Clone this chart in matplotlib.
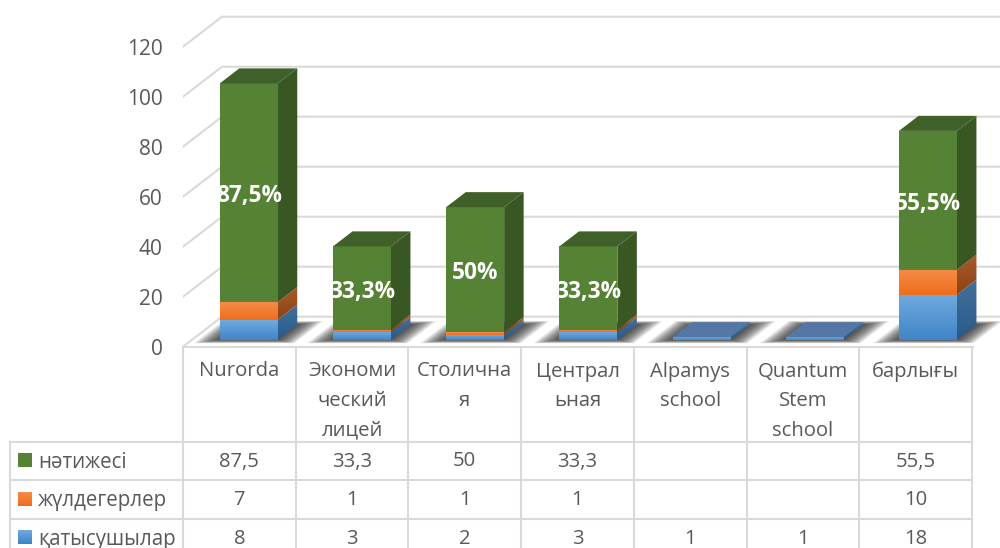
import matplotlib
matplotlib.use("Agg")
import matplotlib.pyplot as plt
from matplotlib.colors import LinearSegmentedColormap
from matplotlib.patches import Polygon
import numpy as np

# Data
categories = ["Nurorda", "Экономи\nческий\nлицей", "Столична\nя", "Централ\nьная",
              "Alpamys\nschool", "Quantum\nStem\nschool", "барлығы"]
qatysushylar = [8, 3, 2, 3, 1, 1, 18]
zhuldegerler = [7, 1, 1, 1, 0, 0, 10]
natizhesi = [87.5, 33.3, 50, 33.3, 0, 0, 55.5]
natizhesi_labels = ["87,5", "33,3", "50", "33,3", "", "", "55,5"]
series_names = ["нәтижесі", "жүлдегерлер", "қатысушылар"]
yticks = [0, 20, 40, 60, 80, 100, 120]

plt.rcParams["font.family"] = ["Open Sans", "DejaVu Sans"]
TEXT = "#595959"
GRID = "#d9d9d9"

W, H = 1000, 548
fig = plt.figure(figsize=(W / 100, H / 100), dpi=100)

# main axes: x = category number, y = value on the front edge of the floor
ax = fig.add_axes([183 / W, (H - 346.7) / H, 817 / W, 346.7 / H])
PX_X = 113.2
PX_Y = 2.5
xlim = (-0.5, -0.5 + 817 / PX_X)
ylim = (0, 346.7 / PX_Y)


def proj(x, v, d):
    # oblique 3d: d=0 is the front of the floor, d=1 the back wall
    return x + d * 39 / PX_X, v + d * 30 / PX_Y


def grad_poly(pts, top, bottom, z):
    pts = np.array(pts)
    cmap = LinearSegmentedColormap.from_list("g", [bottom, top])
    im = ax.imshow(np.linspace(1, 0, 64).reshape(-1, 1), cmap=cmap, aspect="auto", vmin=0, vmax=1,
                   extent=(pts[:, 0].min(), pts[:, 0].max(), pts[:, 1].min(), pts[:, 1].max()), zorder=z)
    p = Polygon(pts, closed=True, transform=ax.transData, fc="none", ec="none")
    ax.add_patch(p)
    im.set_clip_path(p)


# walls and floor
for t in yticks:
    xs, ys = zip(proj(-0.5, t, 0), proj(-0.5, t, 1), proj(7.5, t, 1))
    ax.plot(xs, ys, color=GRID, lw=1.5, zorder=1, solid_joinstyle="miter")
floor_end = (972.5 - 239.6) / PX_X
ax.plot([-0.5, floor_end], [0, 0], color=GRID, lw=1.5, zorder=1, clip_on=False)

# bars
D0, D1 = 0.235, 0.735
HALF = 0.256
face_colors = [("#6fa9de", "#3f85c8"), ("#f68b47", "#ee6e1b"), ("#558235", "#558235")]
side_colors = [("#44709a", "#285a8c"), ("#a85a2c", "#8a4412"), ("#385723", "#385723")]
top_colors = ["#5577a5", "#a85a2c", "#3f6028"]
series = [qatysushylar, zhuldegerler, natizhesi]

for i in range(len(categories)):
    l, r = i - HALF, i + HALF
    # blurred shadow on the floor
    for e in np.linspace(1, 0, 24):
        sx = 0.19 * e
        sd = 0.12 * e
        pts = [proj(l - sx, 0, D0 - sd), proj(r + sx, 0, D0 - sd),
               proj(r + sx, 0, D1 + sd), proj(l - sx, 0, D1 + sd)]
        ax.add_patch(Polygon(pts, closed=True, fc="#202020", ec="none", alpha=0.055, zorder=2, clip_on=False))
    base = 0
    last = 0
    for s, vals in enumerate(series):
        h = vals[i]
        if h <= 0:
            continue
        top = base + h
        grad_poly([proj(r, base, D0), proj(r, base, D1), proj(r, top, D1), proj(r, top, D0)],
                  side_colors[s][0], side_colors[s][1], 3)
        grad_poly([proj(l, base, D0), proj(r, base, D0), proj(r, top, D0), proj(l, top, D0)],
                  face_colors[s][0], face_colors[s][1], 4)
        base = top
        last = s
    ax.add_patch(Polygon([proj(l, base, D0), proj(r, base, D0), proj(r, base, D1), proj(l, base, D1)],
                         closed=True, fc=top_colors[last], ec="none", zorder=4))
    # data label in the middle of the green part
    if natizhesi[i] > 0:
        mx, my = proj(i, base - natizhesi[i] / 2, D0)
        ax.text(mx, my - 1.4, natizhesi_labels[i] + "%", color="white", fontsize=16.3, fontweight="bold",
                ha="center", va="center", zorder=6)

ax.set_xlim(xlim)
ax.set_ylim(ylim)
ax.set_xticks([])
ax.set_yticks(yticks)
ax.set_yticklabels([str(t) for t in yticks], fontsize=15, color=TEXT)
ax.tick_params(axis="y", length=0, pad=14.5)
ax.patch.set_alpha(0)
for sp in ax.spines.values():
    sp.set_visible(False)

# data table below the chart, in pixels
tb = fig.add_axes([0, 0, 1, 1], zorder=-1)
tb.set_xlim(0, W)
tb.set_ylim(H, 0)
tb.axis("off")
TB_X = 112.7
col_x = [183 + TB_X * k for k in range(8)]
row_y = [441.5, 480, 518.5]
for cx in col_x:
    tb.plot([cx, cx], [347, H], color=GRID, lw=1.5)
tb.plot([10, 10], [441.5, H], color=GRID, lw=1.5)
for ry in row_y:
    tb.plot([10, col_x[-1]], [ry, ry], color=GRID, lw=1.5)

for k, name in enumerate(categories):
    cx = col_x[k] + TB_X / 2
    for n, line in enumerate(name.split("\n")):
        tb.text(cx, 371.5 + n * 29.5, line, ha="center", va="center", fontsize=14.6, color=TEXT)

rows = [natizhesi_labels, [str(v) if v else "" for v in zhuldegerler], [str(v) for v in qatysushylar]]
key_colors = [("#558235", "#558235"), face_colors[1], face_colors[0]]
for r, name in enumerate(series_names):
    cy = [460.5, 499, 537.5][r]
    for k, val in enumerate(rows[r]):
        tb.text(col_x[k] + TB_X / 2, cy + 1, val, ha="center", va="center", fontsize=14.6, color=TEXT)
    tb.imshow(np.linspace(0, 1, 16).reshape(-1, 1),
              cmap=LinearSegmentedColormap.from_list("k", key_colors[r]),
              extent=(18, 32, cy + 7, cy - 7), aspect="auto", vmin=0, vmax=1)
    tb.text(38, cy + 1.5, name, ha="left", va="center", fontsize=14.8, color=TEXT)
tb.set_xlim(0, W)
tb.set_ylim(H, 0)

fig.savefig("out.png", dpi=100)
